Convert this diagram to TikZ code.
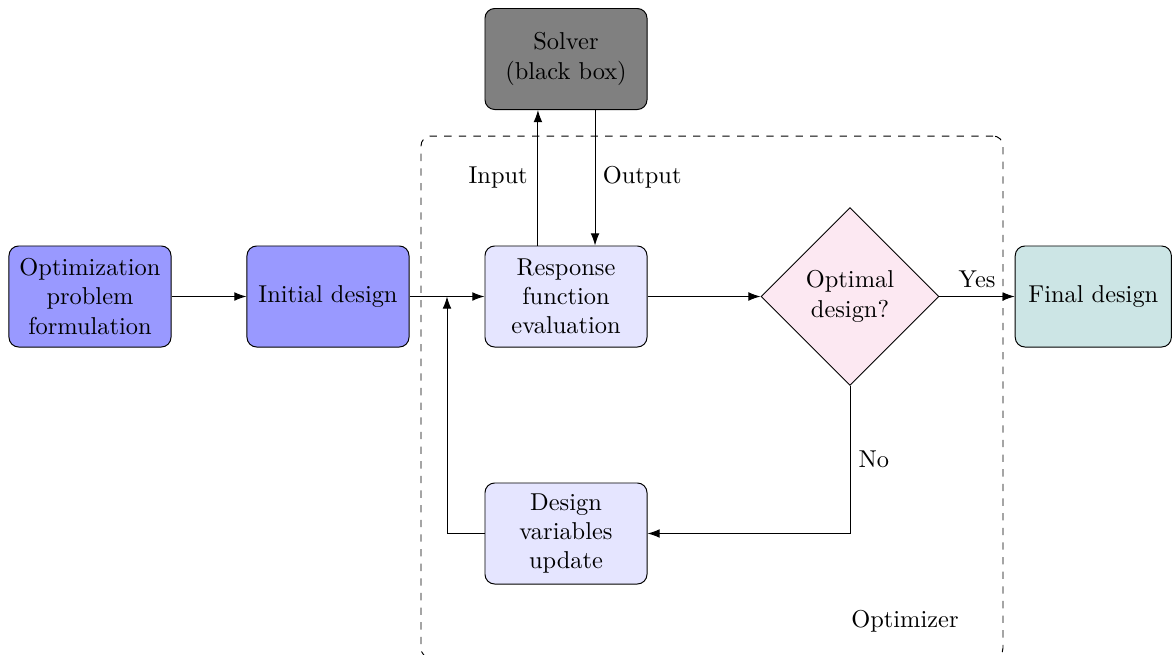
\documentclass[tikz,border=0pt]{standalone}
\usetikzlibrary{shapes.geometric,arrows.meta}
\definecolor{dpink}{RGB}{252,232,242}
\begin{document}
\begin{tikzpicture}[x=0.4098pt,y=-0.4098pt,
  box/.style={draw, rounded corners=4pt, minimum width=66.4pt, minimum height=41.4pt, align=center, inner sep=2pt},
  arr/.style={-{Latex[length=5pt,width=3.6pt]}},
  lbl/.style={inner sep=0pt}]
\useasboundingbox (0,0) rectangle (1172,655);
\node[draw, dashed, rounded corners=4pt, minimum width=238.5pt, minimum height=213.9pt, inner sep=0pt] (optbox) at (712,397) {};
\node[box, fill=blue!40] (prob) at (90,296.5) {Optimization\\problem\\formulation};
\node[box, fill=blue!40] (init) at (328,296.5) {Initial design};
\node[box, fill=blue!10] (resp) at (566,296.5) {Response\\function\\evaluation};
\node[box, fill=black!50] (solver) at (566,59) {Solver\\(black box)};
\node[diamond, draw, fill=dpink, minimum size=72.9pt, inner sep=0pt, align=center] (dec) at (850,296.5) {Optimal\\design?};
\node[box, fill=teal!20, minimum width=64pt] (final) at (1093.3,296.5) {Final design};
\node[box, fill=blue!10] (upd) at (566,533.5) {Design\\variables\\update};
\node (optlbl) at (905,621) {Optimizer};
\coordinate (j) at (447,296.5);
\draw[arr] (prob) -- (init);
\draw[arr] (init) -- (resp);
\draw[arr] ([xshift=-11.5pt]resp.north) -- node[lbl, left=4pt] (inlbl) {Input} ([xshift=-11.5pt]solver.south);
\draw[arr] ([xshift=11.9pt]solver.south) -- node[lbl, right=3pt] (outlbl) {Output} ([xshift=11.9pt]resp.north);
\draw[arr] (resp) -- (dec);
\draw[arr] (dec) -- node[above] (yeslbl) {Yes} (final);
\draw[arr] (dec.south) |- node[pos=0.25, right] (nolbl) {No} (upd.east);
\draw[arr] (upd.west) -| (j);
\end{tikzpicture}
\end{document}
